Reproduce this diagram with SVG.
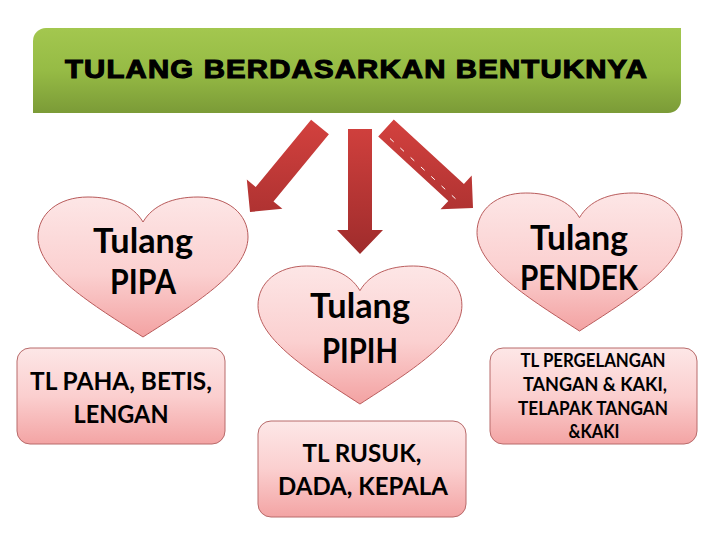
<svg xmlns="http://www.w3.org/2000/svg" width="720" height="540" viewBox="0 0 720 540">
  <style>
    .title { font-family: "Liberation Sans", Arial, sans-serif; font-weight: bold; font-size: 25px; fill: #000; stroke: #000; stroke-width: 1.1; letter-spacing: 1px; }
    .lbl { font-family: Lato, "Noto Sans", sans-serif; font-weight: bold; fill: #000; text-anchor: middle; }
    .big { font-size: 34px; }
    .mid { font-size: 24px; }
    .small { font-size: 18px; }
    .heart { fill: url(#heartGrad); stroke: #b85a5a; stroke-width: 1; vector-effect: non-scaling-stroke; }
    .box { fill: url(#boxGrad); stroke: #b86a6a; stroke-width: 1; }
    .arrow { fill: url(#arrowGrad); }
  </style>
  <defs>
    <linearGradient id="bannerGrad" x1="0" y1="0" x2="0" y2="1">
      <stop offset="0" stop-color="#a3c74f"/>
      <stop offset="0.5" stop-color="#96bb45"/>
      <stop offset="1" stop-color="#7b9b37"/>
    </linearGradient>
    <linearGradient id="heartGrad" x1="0" y1="0" x2="0" y2="1">
      <stop offset="0" stop-color="#fde6e6"/>
      <stop offset="0.55" stop-color="#fbd0d0"/>
      <stop offset="1" stop-color="#f3a2a2"/>
    </linearGradient>
    <linearGradient id="boxGrad" x1="0" y1="0" x2="0" y2="1">
      <stop offset="0" stop-color="#fde7e7"/>
      <stop offset="0.5" stop-color="#fbcfcf"/>
      <stop offset="1" stop-color="#f3a4a4"/>
    </linearGradient>
    <linearGradient id="arrowGrad" gradientUnits="userSpaceOnUse" x1="0" y1="119" x2="0" y2="254">
      <stop offset="0" stop-color="#d3413e"/>
      <stop offset="1" stop-color="#9f2c2c"/>
    </linearGradient>
    <path id="heartShape" d="M105,25 C95,8 75,0 50,0 C20,0 0,17 0,40 C0,75 55,108 105,140 C155,108 210,75 210,40 C210,17 190,0 160,0 C135,0 115,8 105,25 Z"/>
  </defs>

  <rect width="720" height="540" fill="#ffffff"/>

  <g id="banner">
    <path d="M46,28 H681 V100 A13,13 0 0 1 668,113 H33 V41 A13,13 0 0 1 46,28 Z" fill="url(#bannerGrad)"/>
    <text class="title" x="65" y="78" textLength="583" lengthAdjust="spacingAndGlyphs">TULANG BERDASARKAN BENTUKNYA</text>
  </g>

  <g id="connectors">
    <path class="arrow" d="M328.9,134.3 L273.5,201.5 L282.4,208.8 L250,212 L246.8,179.6 L255.7,186.9 L311.1,119.7 Z"/>
    <path class="arrow" d="M348,129 H372 V230 H383 L360,254 L337,230 H348 Z"/>
    <path class="arrow" d="M378.2,136.5 L448.3,200.9 L440.5,209.3 L473,208 L471.7,175.5 L463.9,183.9 L393.8,119.5 Z"/>
    <line x1="390" y1="138.5" x2="458.4" y2="201.4" stroke="#ffffff" stroke-width="1" stroke-dasharray="5 9"/>
  </g>

  <g id="heart-pipa">
    <use href="#heartShape" class="heart" transform="translate(38,197)"/>
    <text class="lbl big" x="143" y="253" textLength="100" lengthAdjust="spacingAndGlyphs">Tulang</text>
    <text class="lbl big" x="143" y="294" textLength="66" lengthAdjust="spacingAndGlyphs">PIPA</text>
  </g>

  <g id="box-pipa">
    <rect class="box" x="17" y="348" width="208" height="96" rx="13"/>
    <text class="lbl mid" x="121" y="390" textLength="182" lengthAdjust="spacingAndGlyphs">TL PAHA, BETIS,</text>
    <text class="lbl mid" x="121" y="423" textLength="95" lengthAdjust="spacingAndGlyphs">LENGAN</text>
  </g>

  <g id="heart-pipih">
    <use href="#heartShape" class="heart" transform="translate(258,266) scale(0.971,0.986)"/>
    <text class="lbl big" x="360" y="318" textLength="100" lengthAdjust="spacingAndGlyphs">Tulang</text>
    <text class="lbl big" x="360" y="363" textLength="76" lengthAdjust="spacingAndGlyphs">PIPIH</text>
  </g>

  <g id="box-pipih">
    <rect class="box" x="258" y="421" width="208" height="96" rx="13"/>
    <text class="lbl mid" x="362" y="462" textLength="119" lengthAdjust="spacingAndGlyphs">TL RUSUK,</text>
    <text class="lbl mid" x="363" y="495" textLength="170" lengthAdjust="spacingAndGlyphs">DADA, KEPALA</text>
  </g>

  <g id="heart-pendek">
    <use href="#heartShape" class="heart" transform="translate(477,193) scale(0.976,0.986)"/>
    <text class="lbl big" x="579" y="250" textLength="98" lengthAdjust="spacingAndGlyphs">Tulang</text>
    <text class="lbl big" x="579" y="290" textLength="118" lengthAdjust="spacingAndGlyphs">PENDEK</text>
  </g>

  <g id="box-pendek">
    <rect class="box" x="490" y="348" width="207" height="96" rx="13"/>
    <text class="lbl small" x="593" y="367" textLength="145" lengthAdjust="spacingAndGlyphs">TL PERGELANGAN</text>
    <text class="lbl small" x="595" y="391" textLength="144" lengthAdjust="spacingAndGlyphs">TANGAN &amp; KAKI,</text>
    <text class="lbl small" x="593" y="415" textLength="150" lengthAdjust="spacingAndGlyphs">TELAPAK TANGAN</text>
    <text class="lbl small" x="594" y="438" textLength="51" lengthAdjust="spacingAndGlyphs">&amp;KAKI</text>
  </g>
</svg>
